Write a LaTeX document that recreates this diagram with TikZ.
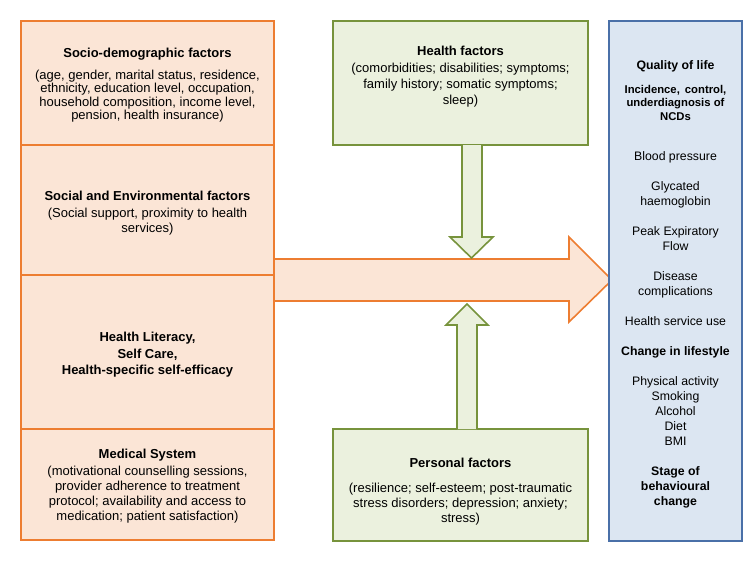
\documentclass[tikz,border=0pt]{standalone}
\usepackage{fontspec}
\setmainfont{Liberation Sans}
\usepackage{tikz}
\usetikzlibrary{positioning}
\definecolor{orangeline}{HTML}{ED7D31}
\definecolor{orangefill}{HTML}{FBE5D6}
\definecolor{greenline}{HTML}{77933C}
\definecolor{greenfill}{HTML}{EBF1DE}
\definecolor{blueline}{HTML}{4A70A8}
\definecolor{bluefill}{HTML}{DCE6F2}
\newcommand{\ncdline}[1]{\textbf{\fontsize{11.3}{13}\selectfont #1}}
\newcommand{\headroom}[1]{\rule{0pt}{#1}}
\tikzset{
    boxtext/.style={align=center, inner sep=0pt, outer sep=0pt,
        font=\fontsize{13}{15}\selectfont},
    factor/.style={boxtext, draw=orangeline, fill=orangefill, line width=1.6pt,
        minimum width=253pt},
    modifier/.style={boxtext, draw=greenline, fill=greenfill, line width=1.6pt,
        minimum width=255pt},
    outcome/.style={boxtext, draw=blueline, fill=bluefill, line width=1.4pt,
        minimum width=133pt, minimum height=520pt,
        font=\fontsize{12.3}{15}\selectfont},
    mainflow/.style={draw=orangeline, fill=orangefill, line width=1.6pt, line join=miter},
    sideflow/.style={draw=greenline, fill=greenfill, line width=1.6pt, line join=miter},
}

\begin{document}
\begin{tikzpicture}[x=1pt,y=-1pt]
    \useasboundingbox (0,0) rectangle (750,563);
    % left column of factors
    \node[factor, minimum height=124pt, font=\fontsize{13}{13.6}\selectfont] (socio) at (147.5,83)
        {\headroom{14pt}\textbf{Socio-demographic factors}\\[8pt]
        (age, gender, marital status, residence,\\
        ethnicity, education level, occupation,\\
        household composition, income level,\\
        pension, health insurance)};
    \node[factor, minimum height=130pt, below=0pt of socio] (social)
        {\headroom{15pt}\textbf{Social and Environmental factors}\\[2pt]
        (Social support, proximity to health\\
        services)};
    \node[factor, minimum height=154pt, below=0pt of social] (literacy)
        {\headroom{15pt}\textbf{Health Literacy,}\\[1.5pt]
        \textbf{Self Care,}\\[1.5pt]
        \textbf{Health-specific self-efficacy}};
    \node[factor, minimum height=111pt, below=0pt of literacy] (medical)
        {\headroom{13pt}\textbf{Medical System}\\[2pt]
        (motivational counselling sessions,\\
        provider adherence to treatment\\
        protocol; availability and access to\\
        medication; patient satisfaction)};
    % main arrow
    \draw[mainflow] (274,259) -- (569,259) -- (569,237) -- (612,280)
        -- (569,322) -- (569,301) -- (274,301) -- cycle;
    % middle column
    \node[modifier, minimum height=124pt, font=\fontsize{13}{16}\selectfont] (health) at (460.5,83)
        {\textbf{Health factors}\\[1pt]
        (comorbidities; disabilities; symptoms;\\
        family history; somatic symptoms;\\
        sleep)\\ \mbox{}};
    \node[modifier, minimum height=112pt] (personal) at (460.5,485)
        {\headroom{8pt}\\
        \textbf{Personal factors}\\[10pt]
        (resilience; self-esteem; post-traumatic\\
        stress disorders; depression; anxiety;\\
        stress)};
    \draw[sideflow] (462,145) -- (462,237) -- (450,237) -- (471.5,258)
        -- (493,237) -- (482,237) -- (482,145);
    \draw[sideflow] (457,429) -- (457,325) -- (446,325) -- (467,304)
        -- (488,325) -- (477,325) -- (477,429);
    % outcomes
    \node[outcome] (outcomes) at (675.5,281)
        {\headroom{15pt}\textbf{Quality of life}\\[9pt]
        \ncdline{Incidence, \,control,}\\[-1.5pt]
        \ncdline{underdiagnosis of}\\[-1.5pt]
        \ncdline{NCDs}\\[25pt]
        Blood pressure\\[15pt]
        Glycated\\
        haemoglobin\\[15pt]
        Peak Expiratory\\
        Flow\\[15pt]
        Disease\\
        complications\\[15pt]
        Health service use\\[15pt]
        \textbf{Change in lifestyle}\\[15pt]
        Physical activity\\
        Smoking\\
        Alcohol\\
        Diet\\
        BMI\\[15pt]
        \textbf{Stage of}\\
        \textbf{behavioural}\\
        \textbf{change}};
\end{tikzpicture}
\end{document}
